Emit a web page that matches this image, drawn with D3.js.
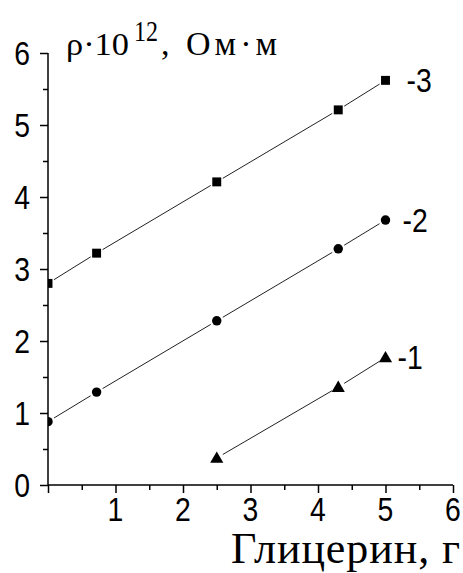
<!DOCTYPE html>
<html><head><meta charset="utf-8">
<script src="https://cdn.jsdelivr.net/npm/d3@7"></script>
<style>body{margin:0;background:#fff}svg{display:block}</style>
</head><body>
<svg id="c" width="463" height="573"></svg>
<script>
const s1x = [2.5, 4.3, 5.0];
const s1y = [0.375, 1.36, 1.77];
const s2x = [0.0, 0.72, 2.5, 4.3, 5.0];
const s2y = [0.88, 1.29, 2.28, 3.28, 3.68];
const s3x = [0.0, 0.72, 2.5, 4.3, 5.0];
const s3y = [2.8, 3.22, 4.21, 5.21, 5.62];
const seriesNames = ["-1", "-2", "-3"];
const xTicks = [1, 2, 3, 4, 5, 6];
const yTicks = [0, 1, 2, 3, 4, 5, 6];

const svg = d3.select("#c");
const x = d3.scaleLinear().domain([0, 6]).range([48, 453]);
const y = d3.scaleLinear().domain([0, 6]).range([485, 53]);

svg.append("defs").append("clipPath").attr("id","clip")
  .append("rect").attr("x", x(0)).attr("y", y(6) - 10)
  .attr("width", x(6) - x(0) + 10).attr("height", y(0) - y(6) + 10);

const sans = "'Liberation Sans', Arial, sans-serif";
const serif = "'Liberation Serif', 'Times New Roman', serif";
const SX = 0.86;

function numText(g, px, py, anchor, txt) {
  return g.append("text")
    .attr("transform", `translate(${px},${py}) scale(${SX},1)`)
    .attr("dy", "0.36em").attr("text-anchor", anchor)
    .style("font-family", sans).style("font-size", "33px").attr("fill", "#000").text(txt);
}

// axes
const gx = svg.append("g").attr("transform", `translate(0,${y(0)})`);
gx.call(d3.axisBottom(x).tickValues(d3.range(0, 6.01, 0.5)).tickSize(5).tickFormat(""));
gx.selectAll(".tick line").filter(d => Number.isInteger(d)).attr("y2", 8);
gx.select(".domain").attr("d", `M${x(0)},0H${x(6)}`);
gx.selectAll("line,path").attr("stroke", "#000").attr("stroke-width", 1.5);
xTicks.forEach(d => numText(gx, x(d), 24, "middle", d));

const gy = svg.append("g").attr("transform", `translate(${x(0)},0)`);
gy.call(d3.axisLeft(y).tickValues(d3.range(0, 6.01, 0.5)).tickSize(5).tickFormat(""));
gy.selectAll(".tick line").filter(d => Number.isInteger(d)).attr("x2", -8);
gy.select(".domain").attr("d", `M0,${y(0)}V${y(6)}`);
gy.selectAll("line,path").attr("stroke", "#000").attr("stroke-width", 1.5);
yTicks.forEach(d => numText(gy, -18, y(d), "end", d));

// series
const series = [
  {xs: s1x, ys: s1y, sym: d3.symbolTriangle, size: 75, name: seriesNames[0], off: 12},
  {xs: s2x, ys: s2y, sym: d3.symbolCircle, size: 70, name: seriesNames[1], off: 17},
  {xs: s3x, ys: s3y, sym: d3.symbolSquare, size: 80, name: seriesNames[2], off: 21}
];
const plot = svg.append("g").attr("clip-path", "url(#clip)");
const gap = 7;
series.forEach(s => {
  const pts = s.xs.map((v, i) => [x(v), y(s.ys[i])]);
  for (let i = 0; i < pts.length - 1; i++) {
    const [x1, y1] = pts[i], [x2, y2] = pts[i + 1];
    const L = Math.hypot(x2 - x1, y2 - y1), ux = (x2 - x1) / L, uy = (y2 - y1) / L;
    plot.append("line")
      .attr("x1", x1 + ux * gap).attr("y1", y1 + uy * gap)
      .attr("x2", x2 - ux * gap).attr("y2", y2 - uy * gap)
      .attr("stroke", "#222").attr("stroke-width", 1);
  }
  plot.selectAll(null).data(pts).enter().append("path")
    .attr("transform", d => `translate(${d[0]},${d[1] + (s.sym === d3.symbolTriangle ? 1 : 0)})`)
    .attr("d", d3.symbol().type(s.sym).size(s.size)).attr("fill", "#000");
  const last = pts[pts.length - 1];
  numText(svg, last[0] + s.off, last[1], "start", s.name);
});

// y title: ρ·10^12, Ом·м
const tf = {family: serif};
svg.append("text").attr("x", 66).attr("y", 55)
  .style("font-family", serif).style("font-size", "32px").attr("fill", "#000")
  .attr("textLength", 63).attr("lengthAdjust", "spacingAndGlyphs").text("ρ·10");
svg.append("text").attr("x", 134).attr("y", 41)
  .style("font-family", serif).style("font-size", "30px").attr("fill", "#000")
  .attr("textLength", 24).attr("lengthAdjust", "spacingAndGlyphs").text("12");
svg.append("text").attr("x", 161).attr("y", 55)
  .style("font-family", serif).style("font-size", "34px").attr("fill", "#000")
  .attr("textLength", 116).attr("lengthAdjust", "spacing").text(", Ом·м");

// x title
svg.append("text").attr("x", 231).attr("y", 563)
  .style("font-family", serif).style("font-size", "44px").attr("fill", "#000")
  .attr("textLength", 229).attr("lengthAdjust", "spacing").text("Глицерин, г");
</script>
</body></html>
